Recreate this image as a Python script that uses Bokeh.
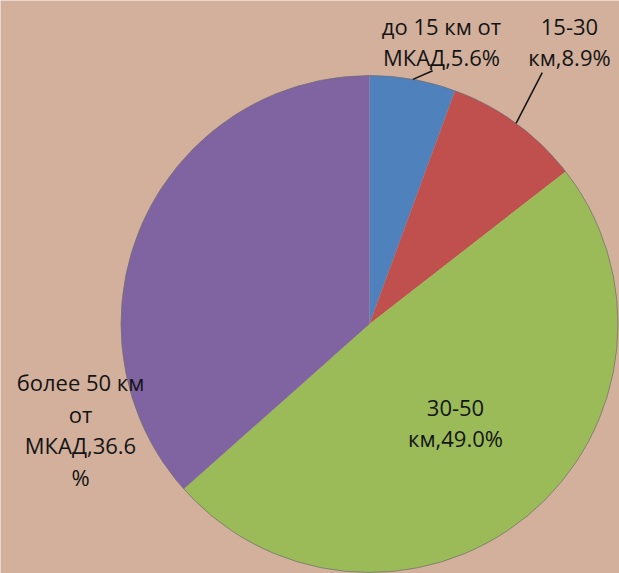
import numpy as np
from bokeh.plotting import figure
from bokeh.models import Range1d, ColumnDataSource
from bokeh.core.properties import value
from bokeh.embed import file_html
from bokeh.resources import INLINE

# data
categories = ["до 15 км от МКАД", "15-30 км", "30-50 км", "более 50 км от МКАД"]
shares = [5.6, 8.9, 49.0, 36.6]
labels = ["до 15 км от\nМКАД,5.6%", "15-30\nкм,8.9%", "30-50\nкм,49.0%", "более 50 км\nот\nМКАД,36.6\n%"]
colors = ["#4f81bd", "#c0504d", "#9bbb59", "#8064a2"]

W, H = 619, 573
cx, cy, R = 369.0, 573 - 323.5, 248.5

p = figure(width=W, height=H, output_backend="svg", toolbar_location=None,
           x_range=Range1d(0, W), y_range=Range1d(0, H), min_border=0)
p.axis.visible = False
p.grid.visible = False
p.outline_line_color = None
p.background_fill_color = "#d3b09c"
p.border_fill_color = "#d3b09c"

vals = np.array(shares)
frac = vals / vals.sum()
cum = np.concatenate([[0], np.cumsum(frac)])
start = np.pi / 2 - 2 * np.pi * cum[:-1]
end = np.pi / 2 - 2 * np.pi * cum[1:]
mid = (start + end) / 2

src = ColumnDataSource(dict(start=start, end=end, color=colors, cat=categories))
p.wedge(x=cx, y=cy, radius=R, start_angle="start", end_angle="end", direction="clock",
        fill_color="color", line_color=None, source=src)
p.circle(x=cx, y=cy, radius=R, fill_color=None, line_color="#6e6e6e", line_width=1, line_alpha=0.7)

# leader lines for the two small slices
lead_r = [261, 305]
lead_a = [14, 34.5]
for i in range(2):
    a = mid[i]
    x0, y0 = cx + R * np.cos(a), cy + R * np.sin(a)
    ang2 = np.pi / 2 - np.radians(lead_a[i])
    x1, y1 = cx + lead_r[i] * np.cos(ang2), cy + lead_r[i] * np.sin(ang2)
    p.line([x0, x1], [y0, y1], line_color="#111111", line_width=1.5)

# label positions (px)
lx = [441, 569, 455, 80]
ly = [573 - 41, 573 - 41, 573 - 422, 573 - 429]
p.text(x=lx, y=ly, text=labels, text_align="center", text_baseline="middle",
       text_font=value("Open Sans"), text_font_size="22px", text_color="#141414",
       text_line_height=1.05)

open("out.html", "w").write(file_html(p, INLINE))
